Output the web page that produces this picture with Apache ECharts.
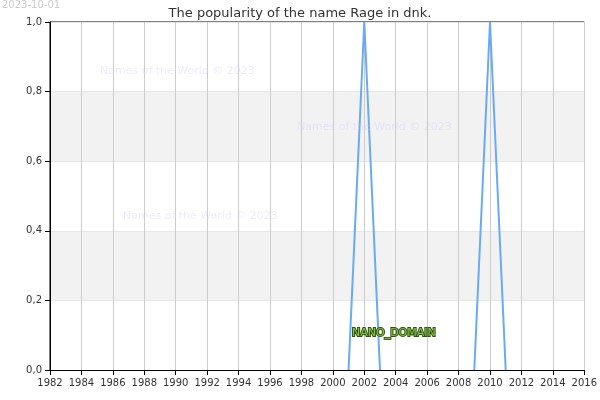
<!DOCTYPE html>
<html><head><meta charset="utf-8">
<script src="https://cdn.jsdelivr.net/npm/echarts@6/dist/echarts.min.js"></script>
<style>html,body{margin:0;padding:0;background:#fff}#c{width:600px;height:400px}</style>
</head><body><div id="c"></div>
<script>
const years = [2001, 2002, 2003, null, 2009, 2010, 2011];
const values = [0, 1, 0, null, 0, 1, 0];
const yTicks = [0, 0.2, 0.4, 0.6, 0.8, 1.0];
const title = 'The popularity of the name Rage in dnk.';
const chart = echarts.init(document.getElementById('c'));
const font = 'DejaVu Sans';
const wm = {fill: 'rgba(200,200,255,0.35)', fontSize: 11, fontFamily: font};
chart.setOption({
  animation: false,
  title: {text: title, left: 'center', top: 2, textStyle: {fontSize: 13, fontWeight: 'normal', color: '#333', fontFamily: font}},
  grid: {left: 50, right: 15, top: 22, bottom: 30, show: true, borderColor: '#000', borderWidth: 1},
  xAxis: {type: 'value', min: 1982, max: 2016, interval: 2,
    axisLine: {lineStyle: {color: '#000'}}, axisTick: {show: true, lineStyle: {color: '#000'}},
    axisLabel: {color: '#333', fontSize: 10, fontFamily: font, formatter: v => String(v)},
    splitLine: {show: true, lineStyle: {color: '#ccc'}}},
  yAxis: {type: 'value', min: 0, max: 1, interval: 0.2,
    axisLine: {show: true, lineStyle: {color: '#000'}}, axisTick: {show: true, lineStyle: {color: '#000'}},
    axisLabel: {color: '#333', fontSize: 10, fontFamily: font, formatter: v => v.toFixed(1).replace('.', ',')},
    splitLine: {show: true, lineStyle: {color: '#e6e6e6'}},
    splitArea: {show: true, areaStyle: {color: ['#fff', '#f2f2f2']}}},
  graphic: {elements: [
    {type: 'text', x: 2, y: 0, z: 100, style: {text: '2023-10-01', fill: '#ccc', fontSize: 10, fontFamily: font}},
    {type: 'text', x: 100, y: 66, z: 100, style: Object.assign({text: 'Names of the World © 2023'}, wm)},
    {type: 'text', x: 297, y: 122, z: 100, style: Object.assign({text: 'Names of the World © 2023'}, wm)},
    {type: 'text', x: 123, y: 211, z: 100, style: Object.assign({text: 'Names of the World © 2023'}, wm)},
    {type: 'text', x: 352, y: 328, z: 100, style: {text: 'NANO_DOMAIN', fill: '#8cc63f', stroke: '#2d5016', lineWidth: 2, fontSize: 11, fontFamily: font}}
  ]},
  series: [{type: 'line', data: years.map((y, i) => y === null ? [null, null] : [y, values[i]]), showSymbol: false, connectNulls: false,
    lineStyle: {color: '#6aaaf5', width: 2}}]
});
</script></body></html>
